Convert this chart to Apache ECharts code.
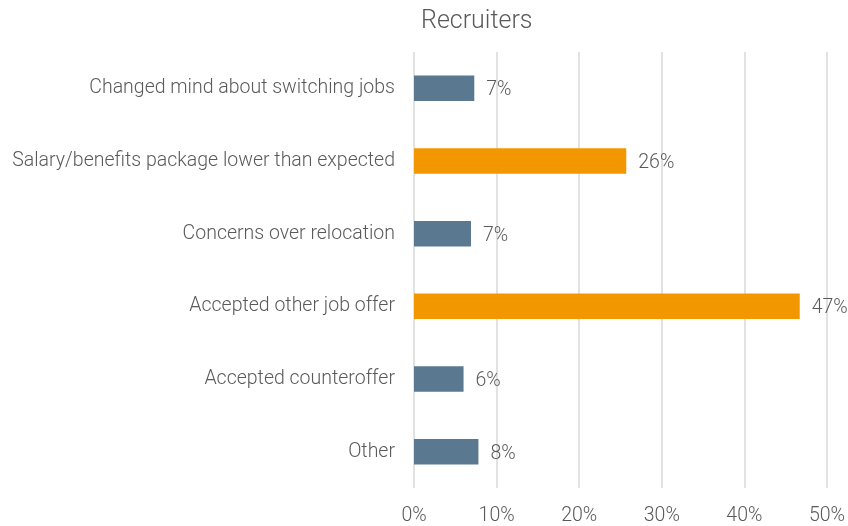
<!DOCTYPE html>
<html>
<head>
<meta charset="utf-8">
<style>
  html, body { margin: 0; padding: 0; background: #fff; }
  #chart { width: 848px; height: 526px; }
</style>
<script src="https://cdn.jsdelivr.net/npm/echarts@6/dist/echarts.min.js"></script>
</head>
<body>
<div id="chart"></div>
<script>
var categories = [
    "Other",
    "Accepted counteroffer",
    "Accepted other job offer",
    "Concerns over relocation",
    "Salary/benefits package lower than expected",
    "Changed mind about switching jobs"
];
var values = [7.8, 6.0, 46.7, 6.9, 25.7, 7.3];
var labels = ["8%", "6%", "47%", "7%", "26%", "7%"];
var highlight = [false, false, true, false, true, false];

var blue = "#5a7890";
var orange = "#f39700";
var textColor = "#5a5a5a";
var font = "Roboto";

var chart = echarts.init(document.getElementById("chart"));

var barData = values.map(function(v, i) {
    return {
        value: v,
        itemStyle: { color: highlight[i] ? orange : blue },
        label: { formatter: labels[i] }
    };
});

chart.setOption({
    animation: false,
    title: {
        text: "Recruiters",
        left: 416,
        top: 4,
        textStyle: {
            color: textColor,
            fontFamily: font,
            fontWeight: 300,
            fontSize: 25
        }
    },
    grid: { left: 414, right: 17, top: 52, bottom: 37 },
    xAxis: {
        type: "value",
        min: 0,
        max: 50,
        interval: 10,
        axisLine: { show: false },
        axisTick: { show: false },
        splitLine: { lineStyle: { color: "#d9d9d9", width: 1.5 } },
        axisLabel: {
            formatter: "{value}%",
            color: textColor,
            fontFamily: font,
            fontWeight: 300,
            fontSize: 19.5,
            margin: 18
        }
    },
    yAxis: {
        type: "category",
        data: categories,
        axisLine: { show: false },
        axisTick: { show: false },
        axisLabel: {
            color: textColor,
            fontFamily: font,
            fontWeight: 300,
            fontSize: 19.5,
            margin: 19,
            padding: [0, 0, 5, 0]
        }
    },
    series: [{
        type: "bar",
        data: barData,
        barWidth: "35%",
        label: {
            show: true,
            position: "right",
            distance: 12,
            offset: [0, 2],
            color: textColor,
            fontFamily: font,
            fontWeight: 300,
            fontSize: 19.5
        }
    }]
});
</script>
</body>
</html>
